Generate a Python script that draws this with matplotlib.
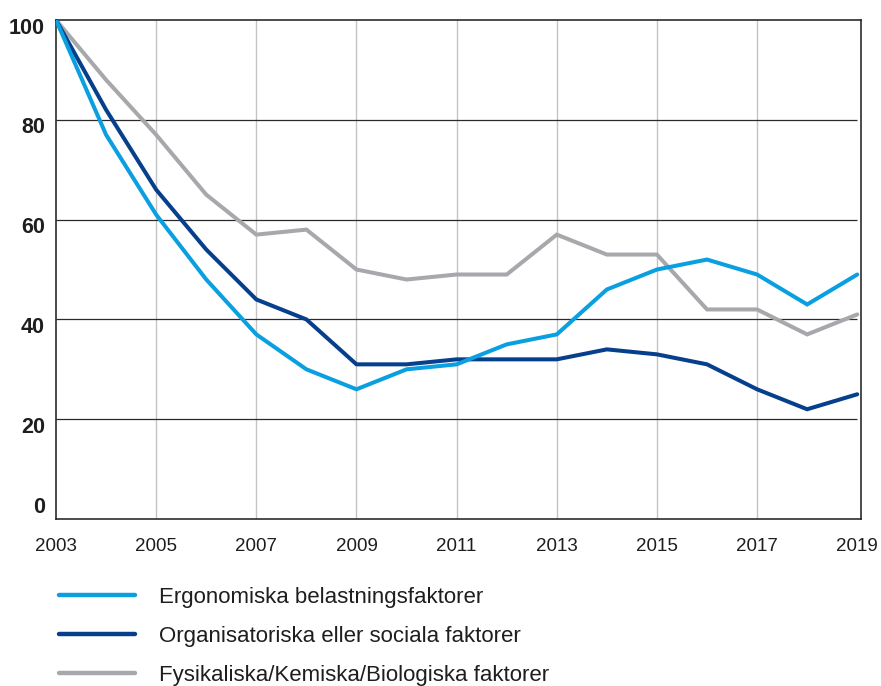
import numpy as np
import matplotlib.transforms as mtransforms
from matplotlib import pyplot as plt

years = np.arange(2003, 2020)

ergonomiska = [100, 77, 61, 48, 37, 30, 26, 30, 31, 35, 37, 46, 50, 52, 49, 43, 49]
organisatoriska = [100, 82, 66, 54, 44, 40, 31, 31, 32, 32, 32, 34, 33, 31, 26, 22, 25]
fysikaliska = [100, 88, 77, 65, 57, 58, 50, 48, 49, 49, 57, 53, 53, 42, 42, 37, 41]

labels = [
    "Ergonomiska belastningsfaktorer",
    "Organisatoriska eller sociala faktorer",
    "Fysikaliska/Kemiska/Biologiska faktorer",
]
colors = ["#0a9fe0", "#063f8c", "#a6a8ab"]

y_ticks = [0, 20, 40, 60, 80, 100]
x_ticks = [2003, 2005, 2007, 2009, 2011, 2013, 2015, 2017, 2019]

plt.rcParams["font.family"] = ["Liberation Sans", "DejaVu Sans"]
text_color = "#1e1e1e"

fig = plt.figure(figsize=(8.81, 6.86), dpi=100)
ax = fig.add_axes([0.0636, 0.2434, 0.9134, 0.7274])

# grid: light vertical lines at labelled years, dark horizontal lines
for x in x_ticks[1:-1]:
    ax.axvline(x, color="#c4c4c4", lw=1.0, zorder=1)
ax.hlines(y_ticks[1:-1], 2003, 2019, color="#2a2a2a", lw=0.9, zorder=1)

series = [ergonomiska, organisatoriska, fysikaliska]
for vals, col, lab, z in zip(series, colors, labels, [4, 3, 2]):
    ax.plot(years, vals, color=col, lw=2.9, label=lab, zorder=z,
            solid_capstyle="round", solid_joinstyle="miter")

ax.set_xlim(2003, 2019.07)
ax.set_ylim(0, 100)
ax.set_xticks(x_ticks)
ax.set_yticks(y_ticks)
ax.tick_params(axis="both", length=0, colors=text_color)
ax.tick_params(axis="x", pad=14, labelsize=13.5)
ax.tick_params(axis="y", pad=8, labelsize=15.5)

# y labels sit a little below their lines, the 0 a bit above the axis
for t, v in zip(ax.get_yticklabels(), y_ticks):
    t.set_fontweight("bold")
    dy = 10 / 72 if v == 0 else -4 / 72
    t.set_transform(t.get_transform() +
                    mtransforms.ScaledTranslation(0, dy, fig.dpi_scale_trans))

for s in ax.spines.values():
    s.set_color("#1a1a1a")
    s.set_linewidth(1.1)

leg = ax.legend(loc="upper left", bbox_to_anchor=(0.0665, 0.1443),
                bbox_transform=fig.transFigure, frameon=False,
                prop={"size": 16}, handlelength=3.45, handletextpad=1.08,
                labelspacing=0.8, borderaxespad=0, borderpad=0)
for txt in leg.get_texts():
    txt.set_color(text_color)
for line in leg.get_lines():
    line.set_linewidth(3.2)

fig.savefig("out.png", dpi=100)
